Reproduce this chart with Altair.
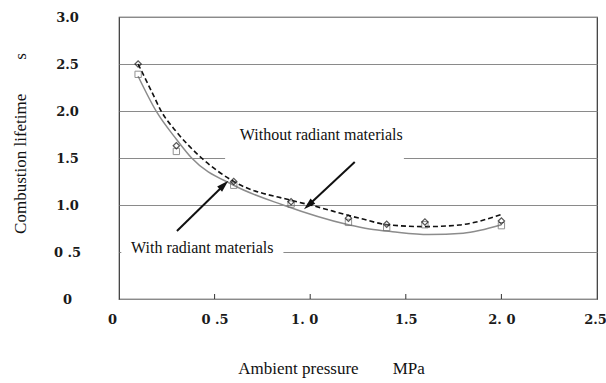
import altair as alt
import pandas as pd

# Measured combustion lifetime (s) against ambient pressure (MPa)
pressure = [0.1, 0.3, 0.6, 0.9, 1.2, 1.4, 1.6, 2.0]
without_radiant = [2.50, 1.63, 1.25, 1.035, 0.86, 0.795, 0.82, 0.83]
with_radiant = [2.39, 1.57, 1.21, 1.01, 0.815, 0.76, 0.79, 0.78]

# Fitted trend curves, sampled along pressure
fit_without_p = [0.1, 0.17, 0.223, 0.3, 0.432, 0.6, 0.9, 1.0, 1.26, 1.416, 1.61, 1.78, 2.0]
fit_without_t = [2.50, 2.21, 1.99, 1.78, 1.50, 1.25, 1.05, 1.00, 0.858, 0.787, 0.77, 0.787, 0.90]
fit_with_p = [0.1, 0.197, 0.3, 0.38, 0.6, 0.858, 1.2, 1.31, 1.43, 1.62, 1.8, 2.0]
fit_with_t = [2.37, 1.99, 1.70, 1.50, 1.21, 1.00, 0.79, 0.745, 0.716, 0.685, 0.70, 0.79]

x_ticks = [0, 0.5, 1.0, 1.5, 2.0, 2.5]
y_ticks = [0, 0.5, 1.0, 1.5, 2.0, 2.5, 3.0]
inner_ticks = [0.5, 1.0, 1.5, 2.0]

# Annotation text, its white backing box and its arrow (data units)
notes = pd.DataFrame({
    "label": ["Without radiant materials", "With radiant materials"],
    "tx": [0.632, 0.063], "ty": [1.74, 0.545],
    "bx": [0.555, 0.012], "bx2": [1.49, 0.86],
    "by": [1.40, 0.40], "by2": [1.92, 0.68],
})
arrows = pd.DataFrame({
    "x": [1.233, 0.303], "y": [1.457, 0.723],
    "x2": [0.995, 0.545], "y2": [1.005, 1.205],
    "angle": [228, 46],
})

df = pd.DataFrame({"p": pressure, "without": without_radiant, "with": with_radiant})
fw = pd.DataFrame({"p": fit_without_p, "t": fit_without_t})
fr = pd.DataFrame({"p": fit_with_p, "t": fit_with_t})

serif = "Liberation Serif"
num_font = "DejaVu Serif"

xscale = alt.Scale(domain=[0, 2.5], nice=False, zero=False)
yscale = alt.Scale(domain=[0, 3.0], nice=False)

x_axis = alt.Axis(
    values=x_ticks, grid=False, ticks=False, domain=False,
    labelFont=num_font, labelFontSize=13, labelFontWeight="bold", labelColor="#1a1a1a",
    labelPadding=14, labelFlush=False,
    labelExpr="datum.value == 0 ? '0' : datum.value == 0.5 ? '0 .5' : datum.value == 1 ? '1. 0' : datum.value == 2 ? '2. 0' : format(datum.value, '.1f')",
    labelOffset={"expr": "datum.value == 0 ? -7 : datum.value == 1 ? -6 : datum.value == 2.5 ? -2 : 0"},
    title="Ambient pressure\u00a0\u00a0\u00a0\u00a0\u00a0\u00a0\u00a0\u00a0MPa",
    titleFont=serif, titleFontSize=17, titleFontWeight="normal", titleColor="#111",
    titleX=212, titleY=69, titleBaseline="middle", titleAlign="center",
)
y_axis = alt.Axis(
    values=y_ticks, grid=True, gridColor="#8a8a8a", gridWidth=1,
    ticks=False, domain=False,
    labelFont=num_font, labelFontSize=13, labelFontWeight="bold", labelColor="#1a1a1a",
    labelPadding=52, labelBaseline="middle", labelAlign="center",
    labelExpr="datum.value == 0 ? '0' : datum.value == 0.5 ? '0 .5' : format(datum.value, '.1f')",
    title="Combustion lifetime\u00a0\u00a0\u00a0\u00a0\u00a0\u00a0\u00a0\u00a0s",
    titleFont=serif, titleFontSize=17, titleFontWeight="normal", titleColor="#111",
    titleX=-99, titleY=126, titleBaseline="middle", titleAlign="center", titleAngle=-90,
)

base = alt.Chart(df)

frame = base.mark_point(opacity=0).encode(
    x=alt.X("p:Q", scale=xscale, axis=x_axis),
    y=alt.Y("without:Q", scale=yscale, axis=y_axis),
)

boxes = alt.Chart(notes).mark_rect(color="white").encode(
    x=alt.X("bx:Q", scale=xscale), x2="bx2:Q",
    y=alt.Y("by:Q", scale=yscale), y2="by2:Q",
)

bottom_ticks = alt.Chart(pd.DataFrame({"v": inner_ticks})).mark_rule(color="#333", strokeWidth=1).encode(
    x=alt.X("v:Q", scale=xscale), y=alt.value(282), y2=alt.value(277),
)

fit_without = alt.Chart(fw).mark_line(
    color="#111", strokeDash=[5, 3], strokeWidth=1.6, interpolate="monotone"
).encode(x=alt.X("p:Q", scale=xscale), y=alt.Y("t:Q", scale=yscale))
fit_with = alt.Chart(fr).mark_line(
    color="#8c8c8c", strokeWidth=1.5, interpolate="monotone"
).encode(x=alt.X("p:Q", scale=xscale), y=alt.Y("t:Q", scale=yscale))

pts_with = base.mark_point(shape="square", filled=False, color="#666", size=40, strokeWidth=1).encode(
    x=alt.X("p:Q", scale=xscale), y=alt.Y("with:Q", scale=yscale),
)
pts_without = base.mark_point(shape="diamond", filled=False, color="#111", size=40, strokeWidth=1.2).encode(
    x=alt.X("p:Q", scale=xscale), y=alt.Y("without:Q", scale=yscale),
)

texts = alt.Chart(notes).mark_text(
    font=serif, fontSize=16, align="left", baseline="middle", color="#111"
).encode(
    x=alt.X("tx:Q", scale=xscale), y=alt.Y("ty:Q", scale=yscale), text="label:N",
)

shafts = alt.Chart(arrows).mark_rule(color="#111", strokeWidth=2).encode(
    x=alt.X("x:Q", scale=xscale), y=alt.Y("y:Q", scale=yscale),
    x2="x2:Q", y2="y2:Q",
)
heads = alt.Chart(arrows).mark_point(
    shape="M0,-1L0.5,0.7L-0.5,0.7Z", filled=True, color="#111", size=200, opacity=1
).encode(
    x=alt.X("x2:Q", scale=xscale), y=alt.Y("y2:Q", scale=yscale),
    angle=alt.Angle("angle:Q", scale=None),
)

chart = alt.layer(
    frame, boxes, bottom_ticks, fit_with, fit_without, pts_with, pts_without,
    texts, shafts, heads,
).properties(
    width=478, height=282,
    autosize=alt.AutoSizeParams(type="none"),
    padding={"left": 119, "top": 17, "right": 9, "bottom": 84},
).configure(
    background="white",
).configure_view(
    stroke="#333", strokeWidth=1.2,
)

chart.save("out.html", embed_options={"renderer": "svg", "actions": False})
